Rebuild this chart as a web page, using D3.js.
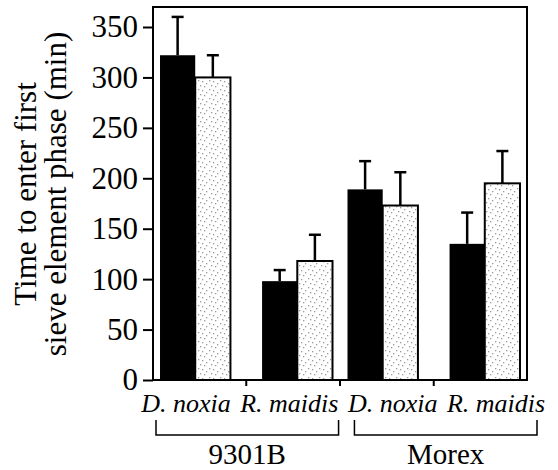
<!DOCTYPE html>
<html>
<head>
<meta charset="utf-8">
<script src="https://cdn.jsdelivr.net/npm/d3@7"></script>
<style>
  body { margin: 0; background: #fff; }
  svg text { font-family: "Times New Roman", "Liberation Serif", "DejaVu Serif", serif; fill: #000; }
</style>
</head>
<body>
<div class="canvas"></div>
<script>
// data (order: 9301B D. noxia, 9301B R. maidis, Morex D. noxia, Morex R. maidis)
const cultivars = ['9301B', 'Morex'];
const aphids = ['D. noxia', 'R. maidis'];
const treatments = ['solid', 'stippled'];
const solidMeans = [322, 98, 189, 135];
const solidErrors = [38, 11, 28, 31];
const stippledMeans = [300, 118, 173, 195];
const stippledErrors = [22, 26, 33, 32];
const yTicks = [0, 50, 100, 150, 200, 250, 300, 350];

const serif = '"Times New Roman", "Liberation Serif", "DejaVu Serif", serif';

const margin = { top: 7, right: 31, bottom: 90, left: 153 };
const width = 558, height = 470;
const graphWidth = width - margin.left - margin.right;

const svg = d3.select('.canvas')
  .append('svg')
    .attr('width', width)
    .attr('height', height)
    .attr('font-family', serif);

// stipple pattern for the light bars
const pat = svg.append('defs').append('pattern')
  .attr('id', 'stipple')
  .attr('patternUnits', 'userSpaceOnUse')
  .attr('width', 11)
  .attr('height', 9);
pat.append('rect').attr('width', 11).attr('height', 9).attr('fill', '#fff');
[[1, 1], [5, 2], [9, 4], [3, 6], [7, 7]].forEach(p => {
  pat.append('rect')
    .attr('x', p[0]).attr('y', p[1])
    .attr('width', 1.3).attr('height', 1.3)
    .attr('fill', '#9a9a9a');
});

const graph = svg.append('g')
  .attr('transform', `translate(${margin.left}, ${margin.top})`);

// build rows from the arrays
const rows = [];
cultivars.forEach((c, ci) => {
  aphids.forEach((a, ai) => {
    const i = ci * aphids.length + ai;
    rows.push({ cultivar: c, aphid: a, treatment: 'solid', mean: solidMeans[i], err: solidErrors[i] });
    rows.push({ cultivar: c, aphid: a, treatment: 'stippled', mean: stippledMeans[i], err: stippledErrors[i] });
  });
});

// scales
const y = d3.scaleLinear()
  .domain([0, 350])
  .range([373, 20]);

const x0 = d3.scaleBand()
  .domain(cultivars)
  .range([0, graphWidth])
  .paddingInner(0.08)
  .paddingOuter(0.0374);

const x1 = d3.scaleBand()
  .domain(aphids)
  .range([0, x0.bandwidth()])
  .paddingInner(0.31)
  .paddingOuter(0);

const x2 = d3.scaleBand()
  .domain(treatments)
  .range([0, x1.bandwidth()])
  .padding(0);

const barX = d => x0(d.cultivar) + x1(d.aphid) + x2(d.treatment);

// error bars (upper only) drawn behind bars
const eb = graph.append('g').attr('class', 'errors')
  .selectAll('g')
  .data(rows)
  .enter().append('g');

eb.append('line')
  .attr('x1', d => barX(d) + x2.bandwidth() / 2)
  .attr('x2', d => barX(d) + x2.bandwidth() / 2)
  .attr('y1', d => y(d.mean))
  .attr('y2', d => y(d.mean + d.err))
  .attr('stroke', '#000')
  .attr('stroke-width', 2.5);

eb.append('line')
  .attr('x1', d => barX(d) + x2.bandwidth() / 2 - 6)
  .attr('x2', d => barX(d) + x2.bandwidth() / 2 + 6)
  .attr('y1', d => y(d.mean + d.err))
  .attr('y2', d => y(d.mean + d.err))
  .attr('stroke', '#000')
  .attr('stroke-width', 2.5);

// bars
graph.append('g').attr('class', 'bars')
  .selectAll('rect')
  .data(rows)
  .enter().append('rect')
    .attr('x', d => barX(d))
    .attr('y', d => y(d.mean))
    .attr('width', x2.bandwidth())
    .attr('height', d => y(0) - y(d.mean))
    .attr('fill', d => d.treatment === 'solid' ? '#000' : 'url(#stipple)')
    .attr('stroke', '#000')
    .attr('stroke-width', d => d.treatment === 'solid' ? 0 : 2);

// frame around the plot
graph.append('rect')
  .attr('x', 0)
  .attr('y', 0)
  .attr('width', graphWidth)
  .attr('height', y(0))
  .attr('fill', 'none')
  .attr('stroke', '#000')
  .attr('stroke-width', 2);

// y axis
const yAxis = d3.axisLeft(y)
  .tickValues(yTicks)
  .tickSize(10)
  .tickPadding(5);

const yAxisGroup = graph.append('g').attr('class', 'y-axis').call(yAxis);
yAxisGroup.attr('font-family', serif).attr('font-size', 31);
yAxisGroup.select('.domain').remove();
yAxisGroup.selectAll('line').attr('stroke-width', 2);
yAxisGroup.selectAll('text')
  .attr('dy', '0.32em');

// small ticks on the baseline between aphid groups
const groupEdges = [];
cultivars.forEach(c => aphids.forEach(a => groupEdges.push([x0(c) + x1(a), x0(c) + x1(a) + x1.bandwidth()])));
const tickXs = d3.range(groupEdges.length - 1).map(i => (groupEdges[i][1] + groupEdges[i + 1][0]) / 2);
graph.append('g').selectAll('line')
  .data(tickXs)
  .enter().append('line')
    .attr('x1', d => d).attr('x2', d => d)
    .attr('y1', y(0)).attr('y2', y(0) + 6)
    .attr('stroke', '#000')
    .attr('stroke-width', 2);

// aphid labels (italic), spread evenly under the groups
const labelX = d3.scalePoint()
  .domain(d3.range(cultivars.length * aphids.length))
  .range([186, 496]);

svg.append('g').selectAll('text')
  .data(cultivars.flatMap(c => aphids.map(a => a)))
  .enter().append('text')
    .attr('x', (d, i) => labelX(i))
    .attr('y', 412)
    .attr('text-anchor', 'middle')
    .attr('font-size', '26px')
    .attr('font-style', 'italic')
    .text(d => d);

// cultivar brackets
const bracketX = d3.scaleBand()
  .domain(cultivars)
  .range([156, 537])
  .paddingInner(0.08);

const brackets = svg.append('g').selectAll('g')
  .data(cultivars)
  .enter().append('g');

brackets.append('path')
  .attr('d', d => {
    const a = bracketX(d), b = a + bracketX.bandwidth();
    return `M${a},420 V435 H${b} V420`;
  })
  .attr('fill', 'none')
  .attr('stroke', '#000')
  .attr('stroke-width', 1.5);

brackets.append('text')
  .attr('x', d => bracketX(d) + bracketX.bandwidth() / 2)
  .attr('y', 464)
  .attr('text-anchor', 'middle')
  .attr('font-size', '29px')
  .text(d => d);

// y axis title, two lines
const yTitle = svg.append('text')
  .attr('transform', 'translate(36, 194) rotate(-90)')
  .attr('text-anchor', 'middle')
  .attr('font-size', '31px');
yTitle.append('tspan').attr('x', 0).attr('dy', 0).text('Time to enter first');
yTitle.append('tspan').attr('x', 0).attr('dy', 30).text('sieve element phase (min)');
</script>
</body>
</html>
